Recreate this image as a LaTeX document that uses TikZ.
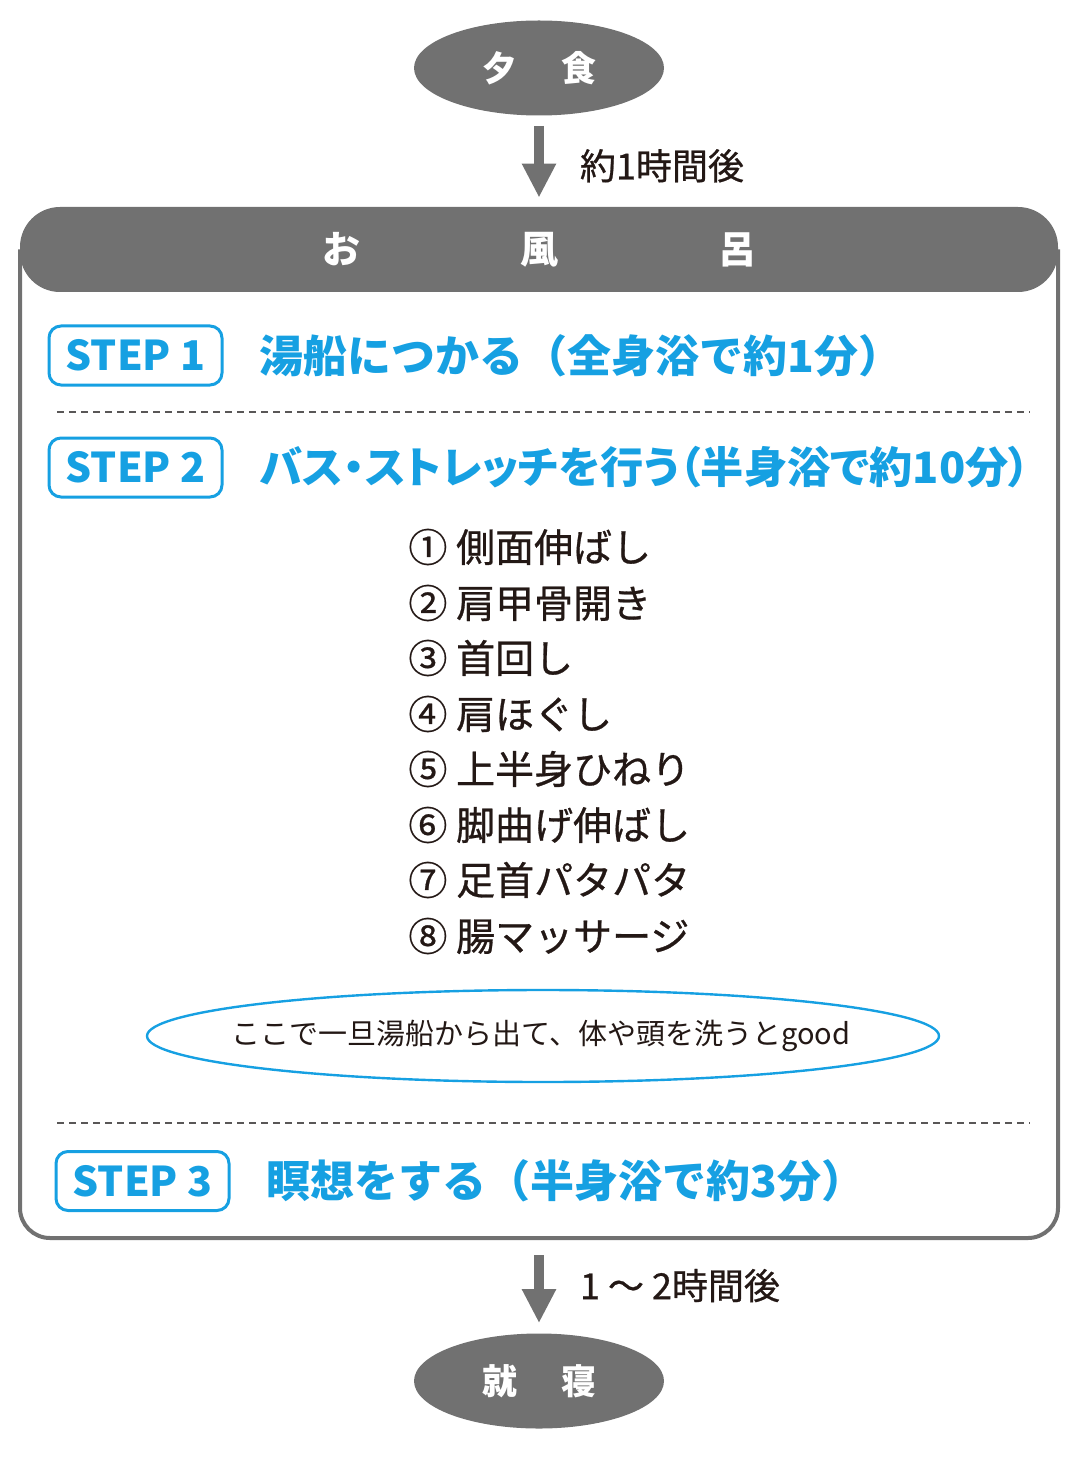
\documentclass[tikz,border=0pt]{standalone}
\usepackage{fontspec}
\setmainfont{Noto Sans CJK JP}
\newfontfamily\medium{Noto Sans CJK JP}[FakeBold=0.7]
\usetikzlibrary{positioning,shapes.geometric,arrows.meta}
\definecolor{boxgray}{RGB}{113,113,113}
\definecolor{stepblue}{RGB}{22,160,226}
\definecolor{inkblack}{RGB}{35,24,21}
\definecolor{dashgray}{RGB}{89,87,87}
\begin{document}
\begin{tikzpicture}[x=0.5pt,y=-0.5pt,
	every node/.style={inner sep=0pt,text=inkblack},
	meal/.style={ellipse,fill=boxgray,text=white,minimum width=125pt,minimum height=47.5pt,font=\fontsize{17.5pt}{17.5pt}\selectfont\bfseries},
	header/.style={fill=boxgray,text=white,rounded corners=20pt,minimum width=519pt,minimum height=42.5pt,font=\fontsize{19pt}{19pt}\selectfont\bfseries},
	frame/.style={draw=boxgray,line width=2pt,rounded corners=15pt},
	flow/.style={draw=boxgray,line width=5pt,-{Triangle[width=16pt,length=17pt]},shorten <=5pt,shorten >=4.5pt},
	wait/.style={right=18pt,font=\fontsize{18pt}{18pt}\medium},
	stepbox/.style={draw=stepblue,line width=1.5pt,rounded corners=6pt,minimum width=86.5pt,minimum height=29.5pt,text=stepblue,font=\fontsize{20.5pt}{20.5pt}\selectfont\bfseries},
	steptitle/.style={right=18pt of #1,text=stepblue,font=\fontsize{22pt}{22pt}\selectfont\bfseries},
	move/.style={anchor=west,font=\fontsize{19.5pt}{19.5pt}\medium},
	advice/.style={font=\fontsize{14.5pt}{14.5pt}\selectfont},
	ring/.style={draw=stepblue,line width=1.2pt},
	divider/.style={draw=dashgray,line width=1.1pt,dash pattern=on 3.5pt off 2.5pt},
	]
	\useasboundingbox (0,0) rectangle (1080,1460);
	% frame round the bath
	\draw[frame] (20,249.5) -- (20,1238) -- (1058,1238) -- (1058,249.5);
	% before and after
	\node[meal] (dinner) at (539,68) {夕\hspace{22pt}食};
	\node[header] (bath) at (539,249.5) {お\hspace{80pt}風\hspace{80pt}呂};
	\node[meal] (sleep) at (539,1381) {就\hspace{22pt}寝};
	
	% steps in the bath
	\node[stepbox] (step1) at (135.5,355.5) {STEP 1};
	\node[steptitle=step1] (title1) {湯船につかる（全身浴で約1分）};
	\node[stepbox] (step2) at (135.5,467.5) {STEP 2};
	\node[steptitle=step2] (title2) {\fontsize{21.6pt}{21.6pt}\selectfont\addfontfeature{RawFeature=+palt}バス・ストレッチを行う（半身浴で約10分）};
	\node[stepbox] (step3) at (142.5,1181) {STEP 3};
	\node[steptitle=step3] (title3) {瞑想をする（半身浴で約3分）};
	
	% stretches
	\node[move] (move1) at (408,547) {① 側面伸ばし};
	\node[move] (move2) at (408,603) {② 肩甲骨開き};
	\node[move] (move3) at (408,658) {③ 首回し};
	\node[move] (move4) at (408,714) {④ 肩ほぐし};
	\node[move] (move5) at (408,769) {⑤ 上半身ひねり};
	\node[move] (move6) at (408,825) {⑥ 脚曲げ伸ばし};
	\node[move] (move7) at (408,880) {⑦ 足首パタパタ};
	\node[move] (move8) at (408,936) {⑧ 腸マッサージ};
	
	\node[advice] (wash) at (541,1036) {ここで一旦湯船から出て、体や頭を洗うとgood};
	\draw[ring] (543,1036) ellipse [x radius=198pt,y radius=23pt];
	
	% dividers
	\draw[divider] (57,412) -- (1030,412);
	\draw[divider] (57,1123) -- (1030,1123);
	
	% time in between
	\draw[flow] (dinner) -- node[wait,pos=0.55] {約1時間後} (dinner |- bath.north);
	\coordinate (bathend) at (539,1238);
	\draw[flow,shorten <=8.5pt,shorten >=5pt] (bathend) -- node[wait] {1\hspace{4pt}～\hspace{4pt}2時間後} (sleep);
	
\end{tikzpicture}
\end{document}
